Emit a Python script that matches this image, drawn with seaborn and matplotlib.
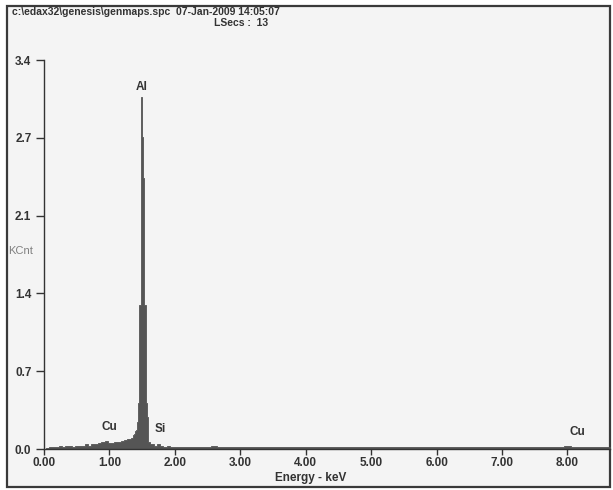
import numpy as np
import pandas as pd
import matplotlib
matplotlib.use("Agg")
import matplotlib.pyplot as plt
import seaborn as sns
from matplotlib.patches import Rectangle

# spectrum channels (keV) and counts (KCnt)
energy_low = [0.00, 0.05, 0.10, 0.15, 0.20, 0.25, 0.30, 0.35, 0.40, 0.45,
              0.50, 0.55, 0.60, 0.65, 0.70, 0.75, 0.80, 0.85, 0.90, 0.95,
              1.00, 1.05, 1.10, 1.15, 1.20, 1.25, 1.30, 1.35]
kcnt_low = [0.00, 0.01, 0.02, 0.02, 0.02, 0.03, 0.02, 0.03, 0.03, 0.02,
            0.03, 0.03, 0.03, 0.04, 0.03, 0.04, 0.04, 0.05, 0.06, 0.07,
            0.05, 0.05, 0.06, 0.06, 0.07, 0.08, 0.09, 0.10]

energy_peak = [1.36, 1.37, 1.38, 1.39, 1.40, 1.41, 1.42, 1.43, 1.44, 1.45,
               1.46, 1.47, 1.48, 1.49, 1.50, 1.51, 1.52, 1.53, 1.54, 1.55,
               1.56, 1.57, 1.58, 1.59, 1.60]
kcnt_peak = [0.11, 0.12, 0.13, 0.14, 0.16, 0.17, 0.19, 0.24, 0.41, 0.86,
             1.27, 1.27, 2.39, 3.10, 2.75, 2.75, 2.39, 1.27, 1.27, 1.27,
             0.86, 0.41, 0.28, 0.12, 0.06]

energy_mid = [1.65, 1.70, 1.75, 1.80, 1.85, 1.90, 1.95, 2.00]
kcnt_mid = [0.04, 0.03, 0.04, 0.03, 0.02, 0.03, 0.02, 0.02]

energy_high = [2.1, 2.2, 2.3, 2.4, 2.5, 2.6, 2.7, 2.8, 2.9, 3.0,
               3.1, 3.2, 3.3, 3.4, 3.5, 3.6, 3.7, 3.8, 3.9, 4.0,
               4.1, 4.2, 4.3, 4.4, 4.5, 4.6, 4.7, 4.8, 4.9, 5.0,
               5.1, 5.2, 5.3, 5.4, 5.5, 5.6, 5.7, 5.8, 5.9, 6.0,
               6.1, 6.2, 6.3, 6.4, 6.5, 6.6, 6.7, 6.8, 6.9, 7.0,
               7.1, 7.2, 7.3, 7.4, 7.5, 7.6, 7.7, 7.8, 7.9, 8.0,
               8.1, 8.2, 8.3, 8.4, 8.5, 8.6]
kcnt_high = [0.020, 0.020, 0.015, 0.020, 0.020, 0.025, 0.020, 0.015, 0.020, 0.020,
             0.015, 0.020, 0.020, 0.015, 0.020, 0.015, 0.020, 0.015, 0.020, 0.015,
             0.015, 0.020, 0.015, 0.015, 0.020, 0.015, 0.015, 0.020, 0.015, 0.015,
             0.015, 0.020, 0.015, 0.015, 0.015, 0.020, 0.015, 0.015, 0.015, 0.015,
             0.020, 0.015, 0.015, 0.015, 0.020, 0.015, 0.015, 0.015, 0.015, 0.015,
             0.015, 0.020, 0.015, 0.015, 0.015, 0.015, 0.015, 0.020, 0.020, 0.030,
             0.020, 0.015, 0.015, 0.015, 0.015, 0.015]

x_ticks = [0, 1, 2, 3, 4, 5, 6, 7, 8]
x_tick_labels = ["0.00", "1.00", "2.00", "3.00", "4.00", "5.00", "6.00", "7.00", "8.00"]
y_tick_labels = ["0.0", "0.7", "1.4", "2.1", "2.7", "3.4"]
y_max = 3.43

# element markers: name, keV, KCnt position of label
elements = ["Al", "Cu", "Si", "Cu"]
element_kev = [1.49, 1.00, 1.77, 8.15]
element_y = [3.14, 0.14, 0.12, 0.10]

df = pd.DataFrame({'energy': energy_low + energy_peak + energy_mid + energy_high,
                   'kcnt': kcnt_low + kcnt_peak + kcnt_mid + kcnt_high})
e = df['energy'].to_numpy()
edges = [e[0] - 0.025] + list((e[:-1] + e[1:]) / 2) + [e[-1] + 0.05]

sns.set_theme(style="white")
plt.rcParams['font.family'] = ['Liberation Sans', 'DejaVu Sans']
dark = '#333333'

fig = plt.figure(figsize=(6.13, 4.90), dpi=100, facecolor='white')
fig.add_artist(Rectangle((7 / 613, 3 / 490), 603 / 613, 481 / 490, transform=fig.transFigure,
                         facecolor='#f4f4f4', edgecolor='#3a3a3a', linewidth=1.6, zorder=-1))

ax = fig.add_axes([44 / 613, 41 / 490, 566 / 613, 389 / 490])
ax.set_facecolor('none')

sns.histplot(data=df, x='energy', weights='kcnt', bins=edges, element='step', fill=True,
             color='#555555', alpha=1, linewidth=0.6, ax=ax)

ax.set_xlim(0, 8.65)
ax.set_ylim(0, y_max)
ax.set_xticks(x_ticks)
ax.set_xticklabels(x_tick_labels, fontweight='bold', fontsize=8.5, color=dark)
ax.set_yticks(np.linspace(0, y_max, len(y_tick_labels)))
ax.set_yticklabels(y_tick_labels, fontweight='bold', fontsize=8.5, color=dark)
ax.tick_params(axis='y', direction='out', length=6, width=1, color=dark, pad=3, left=True)
ax.tick_params(axis='x', direction='out', length=4, width=1, color=dark, pad=2, bottom=True)
for side in ['top', 'right']:
    ax.spines[side].set_visible(False)
for side in ['left', 'bottom']:
    ax.spines[side].set_color(dark)
    ax.spines[side].set_linewidth(1)

ax.set_ylabel('')
ax.set_xlabel('Energy - keV', fontweight='bold', fontsize=8.5, color=dark)
ax.xaxis.set_label_coords(0.472, -0.058)
ax.text(-0.064, 0.51, 'KCnt', transform=ax.transAxes, fontsize=8, color='#808080',
        ha='left', va='center')

for name, kev, yy in zip(elements, element_kev, element_y):
    ax.text(kev, yy, name, fontweight='bold', fontsize=8.5, color=dark, ha='center', va='bottom')

fig.text(12 / 613, 1 - 12 / 490, 'c:\\edax32\\genesis\\genmaps.spc  07-Jan-2009 14:05:07',
         fontweight='bold', fontsize=7.5, color=dark, ha='left', va='center')
fig.text(268 / 613, 1 - 23 / 490, 'LSecs :  13', fontweight='bold', fontsize=7.5, color=dark,
         ha='right', va='center')

fig.savefig('out.png', dpi=100, facecolor='white')
